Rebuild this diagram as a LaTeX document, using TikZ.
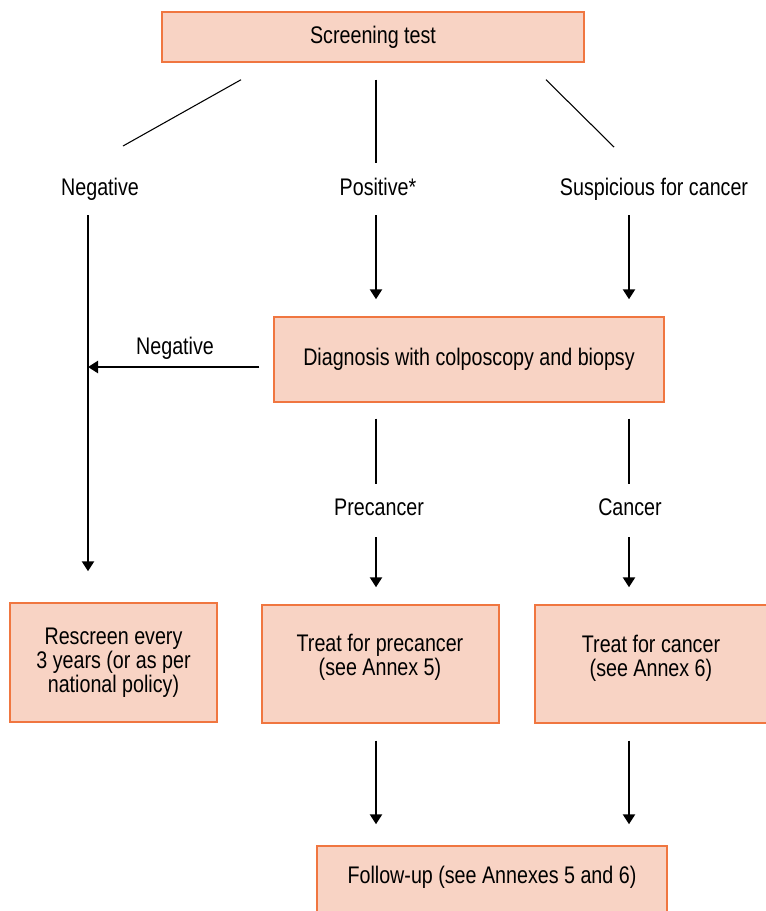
\documentclass[tikz,border=0pt]{standalone}
\usepackage{fontspec}
\setmainfont[FakeStretch=0.82]{Liberation Sans}
\usepackage{tikz}
\usetikzlibrary{shapes,arrows.meta,positioning}
\definecolor{boxfill}{HTML}{F8D3C4}
\definecolor{boxline}{HTML}{F07640}
\tikzset{
  box/.style={draw=boxline, fill=boxfill, line width=1.1pt, align=center, inner sep=0pt},
  txt/.style={align=center, inner sep=0pt},
  lbl/.style={inner sep=0pt, text height=13pt, text depth=4pt},
  arr/.style={line width=1.8pt, -{Triangle[width=9pt,length=7.5pt]}},
  seg/.style={line width=1.8pt},
  split/.style={line width=0.8pt}
}
\begin{document}
\begin{tikzpicture}[x=0.75pt,y=-0.75pt,font=\fontsize{18}{18}\selectfont]
\useasboundingbox (0,0) rectangle (766,911);

\node[box, minimum width=316.5pt, minimum height=37.5pt] (screen) at (373,37) {Screening test};
\node[lbl] (neg) at (100,189) {Negative};
\node[lbl] (pos) at (378,189) {Positive*};
\node[lbl] (susp) at (654,189) {Suspicious for cancer};
\node[box, minimum width=292.5pt, minimum height=63.75pt] (diag) at (469,359.5) {Diagnosis with colposcopy and biopsy};
\node[lbl] (diagneg) at (175,348) {Negative};
\node[lbl] (pre) at (379,509) {Precancer};
\node[lbl] (can) at (630,509) {Cancer};
\node[box, minimum width=155.25pt, minimum height=89.25pt] (rescreen) at (113.5,662.5) {Rescreen every\\3 years (or as per\\national policy)};
\node[box, minimum width=177.75pt, minimum height=88.5pt] (treatpre) at (380.5,664) {};
\node[txt] (treatpretext) at (380,657) {Treat for precancer\\(see Annex 5)};
\node[box, minimum width=180pt, minimum height=88.5pt] (treatcan) at (655,664) {};
\node[txt] (treatcantext) at (651,658) {Treat for cancer\\ (see Annex 6)};
\node[box, minimum width=262.5pt, minimum height=67.5pt] (follow) at (492,891) {};
\node[txt] (followtext) at (492,877) {Follow-up (see Annexes 5 and 6)};
\coordinate (negline) at (88,367);

% screening result
\draw[split] ([shift={(-132,17)}]screen.south) -- ([shift={(23,-43)}]neg.center);
\draw[split] ([shift={(3,17)}]screen.south) -- ([shift={(-2,-26)}]pos.center);
\draw[split] ([shift={(173,17)}]screen.south) -- ([shift={(-40,-42)}]susp.center);

\draw[arr] ([shift={(-12,26)}]neg.center) -- ([shift={(-25.5,-31)}]rescreen.north);
\draw[arr] ([shift={(-2,26)}]pos.center) -- ([shift={(-93,-17)}]diag.north);
\draw[arr] ([shift={(-25,26)}]susp.center) -- ([shift={(160,-17)}]diag.north);
\draw[arr] ([shift={(-14,7.5)}]diag.west) -- (negline);

% diagnosis result
\draw[seg] ([shift={(-93,16)}]diag.south) -- ([shift={(-3,-25)}]pre.center);
\draw[seg] ([shift={(160,16)}]diag.south) -- ([shift={(-1,-25)}]can.center);
\draw[arr] ([shift={(-3,28)}]pre.center) -- ([shift={(-4.5,-17)}]treatpre.north);
\draw[arr] ([shift={(-1,28)}]can.center) -- ([shift={(-26,-17)}]treatcan.north);

\draw[arr] ([shift={(-4.5,17)}]treatpre.south) -- ([shift={(-116,-21)}]follow.north);
\draw[arr] ([shift={(-26,17)}]treatcan.south) -- ([shift={(137,-21)}]follow.north);

\end{tikzpicture}
\end{document}
